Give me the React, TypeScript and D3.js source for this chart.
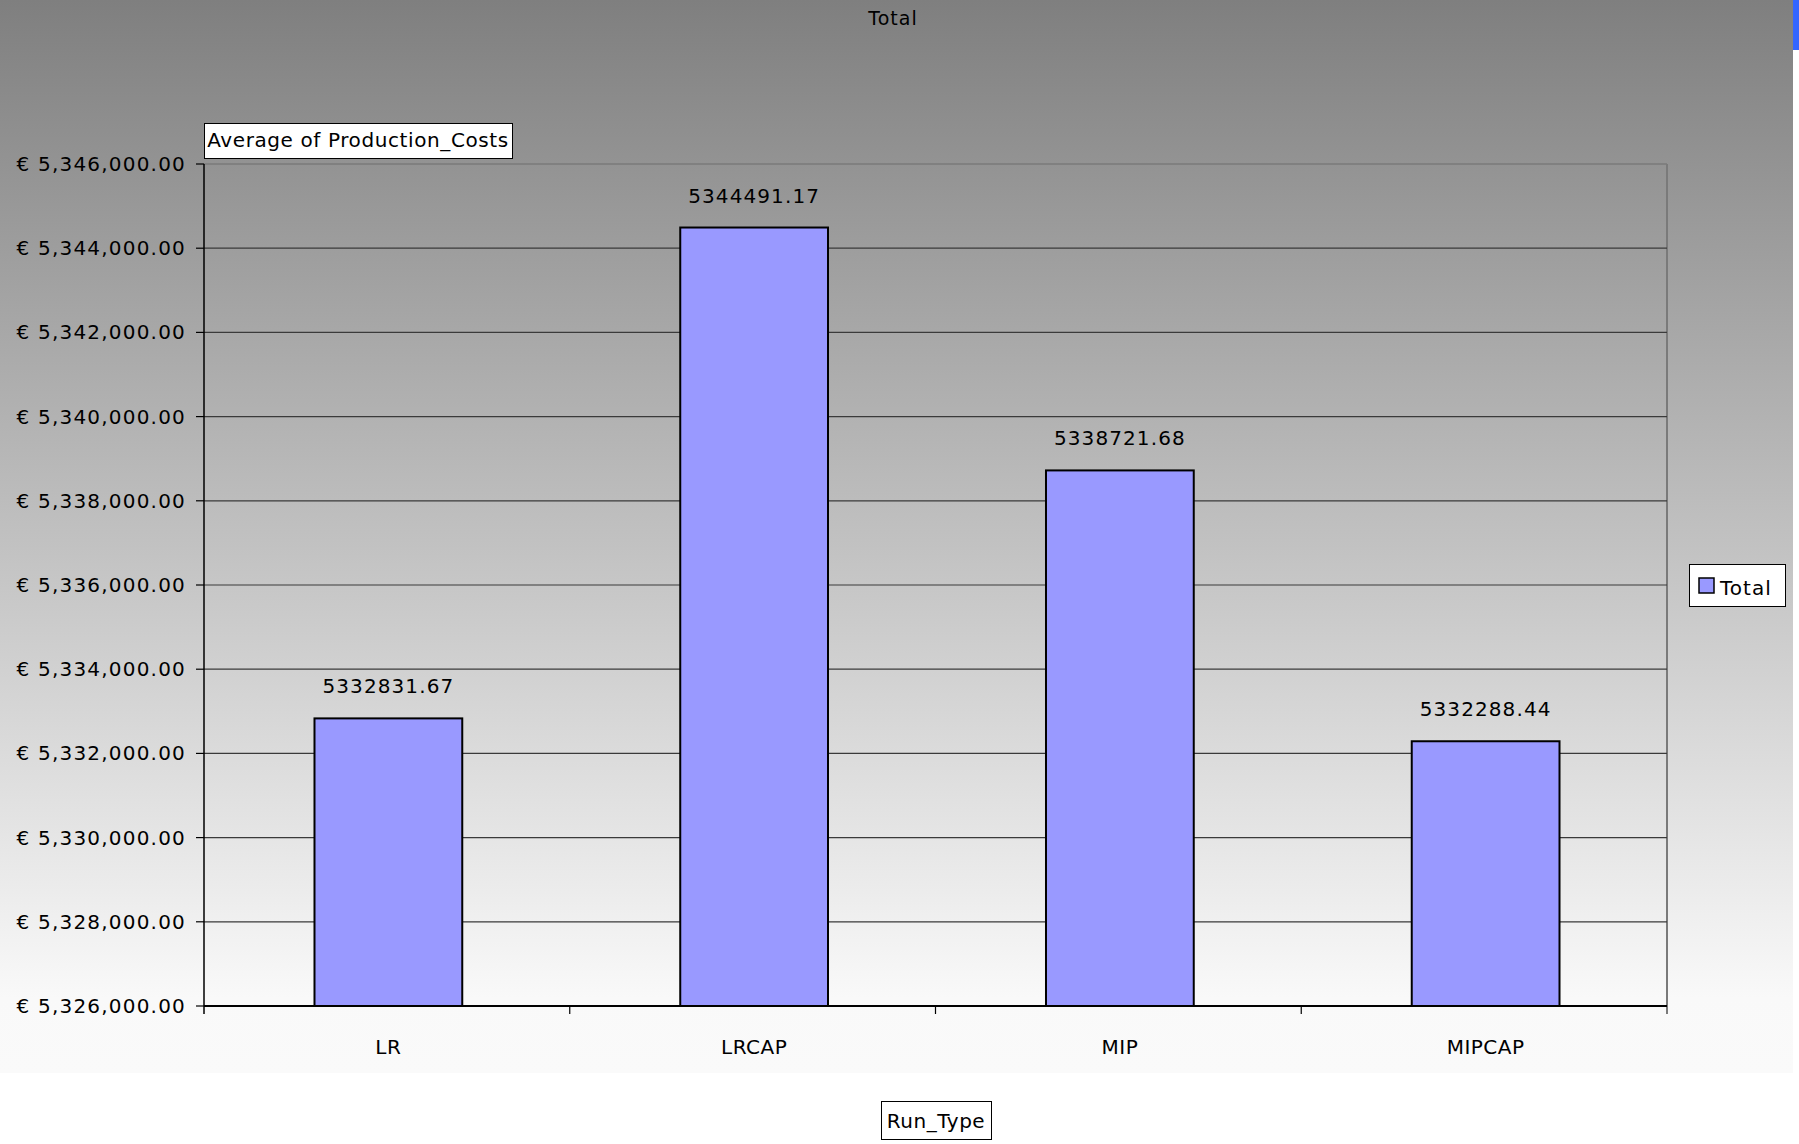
import React from "react";
import * as d3 from "d3";

const categories = ["LR", "LRCAP", "MIP", "MIPCAP"];
const values = [5332831.67, 5344491.17, 5338721.68, 5332288.44];
const yTicks = [5326000, 5328000, 5330000, 5332000, 5334000, 5336000, 5338000, 5340000, 5342000, 5344000, 5346000];
const seriesName = "Total";
const chartTitle = "Total";
const fieldLabel = "Average of Production_Costs";
const axisLabel = "Run_Type";

const W = 1799, H = 1144;
const left = 204, right = 1667, top = 164, bottom = 1006;
const FONT = "'DejaVu Sans', sans-serif";

export default function App() {
  const x = d3.scaleBand<string>().domain(categories).range([left, right]).padding(0);
  const y = d3.scaleLinear().domain([5326000, 5346000]).range([bottom, top]);
  const fmt = (v: number) => "€ " + d3.format(",.2f")(v);
  const barW = x.bandwidth() * 0.404;
  return (
    <svg width={W} height={H} style={{ position: "absolute", left: 0, top: 0, display: "block" }}>
      <defs>
        <linearGradient id="bg" x1="0" y1="0" x2="0" y2="1">
          <stop offset="0" stopColor="#7f7f7f" />
          <stop offset="0.93" stopColor="#f9f9f9" />
          <stop offset="1" stopColor="#fafafa" />
        </linearGradient>
      </defs>
      <rect x={0} y={0} width={W} height={H} fill="#ffffff" />
      <rect x={0} y={0} width={1793} height={1073} fill="url(#bg)" />
      <rect x={1793} y={0} width={6} height={50} fill="#3366ff" />
      <text x={893} y={25} textAnchor="middle" fontFamily={FONT} fontSize={19} letterSpacing={1} fill="#000">{chartTitle}</text>
      {/* plot border */}
      <line x1={left} x2={right} y1={top} y2={top} stroke="#7a7a7a" strokeWidth={1.5} />
      <line x1={right} x2={right} y1={top} y2={bottom + 8} stroke="#7a7a7a" strokeWidth={2} />
      {/* gridlines */}
      {yTicks.map((t) => (
        <g key={t}>
          {t !== yTicks[0] && t !== yTicks[yTicks.length - 1] && (
            <line x1={left} x2={right} y1={y(t)} y2={y(t)} stroke="#3a3a3a" strokeWidth={1.2} />
          )}
          <line x1={left - 8} x2={left} y1={y(t)} y2={y(t)} stroke="#000" strokeWidth={1.2} />
          <text x={186} y={y(t)} dy="0.35em" textAnchor="end" fontFamily={FONT} fontSize={20} letterSpacing={1.2} fill="#000">{fmt(t)}</text>
        </g>
      ))}
      {/* bars */}
      {categories.map((c, i) => {
        const cx = (x(c) as number) + x.bandwidth() / 2 + 1.5;
        return (
          <g key={c}>
            <rect x={cx - barW / 2} y={y(values[i])} width={barW} height={bottom - y(values[i])} fill="#9999ff" stroke="#000" strokeWidth={2} />
            <text x={cx} y={y(values[i]) - 25} textAnchor="middle" fontFamily={FONT} fontSize={20} letterSpacing={1.1} fill="#000">{values[i].toFixed(2)}</text>
            <text x={cx} y={1054} textAnchor="middle" fontFamily={FONT} fontSize={20} letterSpacing={0.5} fill="#000">{c}</text>
          </g>
        );
      })}
      {/* axes */}
      <line x1={left} x2={left} y1={top} y2={bottom + 8} stroke="#000" strokeWidth={1.5} />
      <line x1={left} x2={right} y1={bottom} y2={bottom} stroke="#000" strokeWidth={2} />
      {categories.slice(1).map((c) => (
        <line key={c} x1={x(c) as number} x2={x(c) as number} y1={bottom} y2={bottom + 8} stroke="#000" strokeWidth={1.2} />
      ))}
      {/* field label */}
      <rect x={204.5} y={123.5} width={308} height={35} fill="#fff" stroke="#000" strokeWidth={1} />
      <text x={358} y={140} dy="0.35em" textAnchor="middle" fontFamily={FONT} fontSize={20} letterSpacing={0.6} fill="#000">{fieldLabel}</text>
      {/* legend */}
      <rect x={1689.5} y={564.5} width={96} height={42} fill="#fff" stroke="#000" strokeWidth={1} />
      <rect x={1699} y={578} width={15} height={15} fill="#9999ff" stroke="#000" strokeWidth={1.5} />
      <text x={1720} y={588} dy="0.35em" fontFamily={FONT} fontSize={20} letterSpacing={1} fill="#000">{seriesName}</text>
      {/* axis title box */}
      <rect x={881.5} y={1101.5} width={110} height={38} fill="#fff" stroke="#000" strokeWidth={1} />
      <text x={936} y={1121} dy="0.35em" textAnchor="middle" fontFamily={FONT} fontSize={20} letterSpacing={0.5} fill="#000">{axisLabel}</text>
    </svg>
  );
}
